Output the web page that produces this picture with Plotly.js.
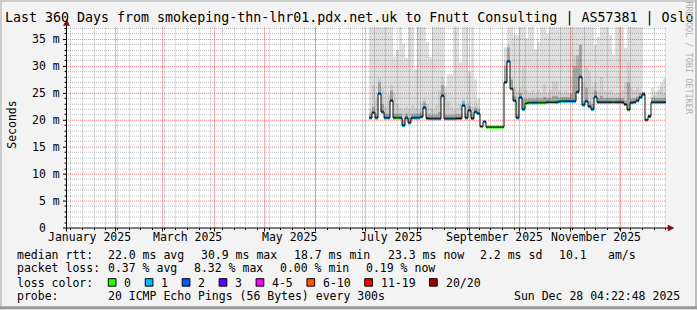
<!DOCTYPE html>
<html><head><meta charset="utf-8">
<script src="https://cdn.plot.ly/plotly-3.0.1.min.js"></script>
<style>html,body{margin:0;padding:0;background:#f3f3f3;overflow:hidden}#chart{width:697px;height:310px}</style>
</head><body><div id="chart"></div>
<script>
// ---------------- data ----------------
const titleText = 'Last 360 Days from smokeping-thn-lhr01.pdx.net.uk to Fnutt Consulting | AS57381 | Oslo';
const rangeStartUTC = [2025, 0, 2, 4, 22, 48];
const rangeEndUTC   = [2025, 11, 28, 4, 22, 48];
const firstBinUTC = [2025, 6, 3, 21, 10, 0];   // centre of first consolidated bin
const binHours = 43.2;

const median = [
 20.4,21.4,20.4,24.9,21.5,20.4,20.4,23.6,20.4,20.4,
 20.4,19.0,20.4,19.5,20.4,20.4,20.4,20.6,22.3,20.3,
 20.25,20.25,20.25,20.25,24.5,20.25,20.25,20.25,20.25,20.3,
 20.3,22.7,20.4,21.8,20.3,21.5,21.2,18.8,19.7,18.7,
 18.7,18.7,18.7,18.7,18.7,27.0,30.9,25.8,23.6,20.4,
 24.2,22.0,23.1,23.2,23.2,23.2,23.2,23.2,23.2,23.3,
 23.3,23.3,23.3,23.4,23.5,23.5,23.5,23.5,23.5,25.2,
 28.0,22.8,23.5,22.5,22.0,24.3,23.3,23.3,23.3,23.3,
 23.3,23.3,23.3,23.3,23.3,22.9,21.9,23.2,23.3,23.6,
 24.2,24.8,20.0,20.7,23.3,23.3,23.3,23.3,23.3];

const loss = [
 1,1,1,1,1,1,1,1,1,0,
 1,1,1,1,1,1,1,1,1,1,
 1,1,1,1,1,1,1,1,1,1,
 1,1,1,1,1,1,1,0,1,0,
 0,0,0,0,0,1,1,0,1,1,
 1,1,0,0,1,1,0,0,0,1,
 0,0,1,1,0,1,1,1,1,1,
 1,1,1,1,1,1,1,1,1,1,
 1,0,1,1,1,1,0,1,1,1,
 1,2,0,2,1,1,1,1,1];

const smokeTop = [
 37.5,37.5,37.5,37.5,37.5,37.5,37.5,37.5,31.8,33.0,
 37.5,34.1,31.5,37.5,37.5,29.5,37.5,37.5,37.5,34.5,
 31.7,37.5,37.5,37.5,37.5,26.3,28.5,28.5,37.5,37.5,
 30.7,37.5,37.5,29.0,37.5,27.6,24.0,19.1,20.0,19.0,
 19.0,19.0,19.0,19.0,19.0,33.5,37.5,37.5,35.8,35.8,
 37.5,37.5,35.2,37.5,37.5,33.2,34.5,37.5,37.5,36.0,
 37.5,37.5,37.5,37.5,37.5,37.5,37.5,37.5,37.5,37.5,
 37.5,37.5,37.5,37.5,37.5,34.0,35.5,37.5,37.5,37.5,
 35.8,32.1,37.5,37.5,37.5,33.4,37.5,37.5,37.5,37.5,
 37.5,25.0,20.3,21.0,26.0,25.3,25.5,27.0,27.8];

const smokeMid = [
 22.0,26.5,24.0,27.8,26.0,22.5,24.8,26.5,25.0,23.0,
 22.3,22.0,22.5,22.0,22.8,22.3,22.0,23.5,24.0,23.0,
 22.3,22.0,22.8,25.5,28.0,25.0,23.5,22.5,22.0,22.3,
 23.0,24.0,23.0,23.5,22.5,23.5,22.5,19.0,19.9,18.9,
 18.9,18.9,18.9,18.9,18.9,31.0,34.0,28.0,26.0,25.5,
 26.0,30.0,25.5,25.0,25.5,25.0,25.5,25.0,26.7,25.0,
 25.5,27.2,27.2,25.5,25.0,25.5,25.0,28.0,32.0,30.0,
 34.0,27.0,30.0,29.0,26.0,27.0,25.5,28.0,25.5,25.0,
 25.5,25.0,24.9,25.0,25.5,27.0,30.7,26.0,25.5,26.0,
 25.5,25.0,20.3,21.0,24.5,24.5,26.5,26.0,25.0];

const smokeDark = [
 21.2,22.5,21.2,27.0,23.0,21.2,21.2,25.5,21.2,21.2,
 21.2,20.0,21.2,20.5,21.2,21.2,21.2,21.4,23.3,21.1,
 21.0,21.0,21.0,21.5,26.5,21.0,21.0,21.0,21.0,21.1,
 21.1,23.5,21.2,22.6,21.1,22.3,22.0,18.9,19.8,18.8,
 18.8,18.8,18.8,18.8,18.8,30.0,33.5,27.5,24.5,21.2,
 25.0,24.0,23.9,24.0,24.0,24.0,24.0,24.0,24.3,24.1,
 24.1,24.5,24.5,24.2,24.3,24.3,24.3,25.0,30.0,32.0,
 34.0,23.6,26.0,23.5,23.0,25.5,24.1,24.5,24.1,24.1,
 24.1,24.1,24.1,24.1,24.1,23.7,27.0,24.0,24.1,24.4,
 25.0,25.2,20.2,20.9,24.1,24.1,24.1,24.1,24.1];

const monthLabels = ['January 2025','March 2025','May 2025','July 2025','September 2025','November 2025'];
const monthLabelDates = ['2025-01-16','2025-03-16','2025-05-16','2025-07-16','2025-09-16','2025-11-16'];
const yTickVals = [0,5,10,15,20,25,30,35];
const yTickText = ['0\u00a0\u00a0','5 m','10 m','15 m','20 m','25 m','30 m','35 m'];
const yTitle = 'Seconds';
const lossColors = ['#26ff00','#00b8ff','#0059ff','#5e00ff','#ff00ff','#ff5500','#ff0000','#a10000'];
const lossLabels = ['0','1','2','3','4-5','6-10','11-19','20/20'];
const rttHead = 'median rtt:';
const rttStats = ['22.0 ms avg','30.9 ms max','18.7 ms min','23.3 ms now','2.2 ms sd','10.1','am/s'];
const lossHead = 'packet loss:';
const lossStats = ['0.37 % avg','8.32 % max','0.00 % min','0.19 % now'];
const colorHead = 'loss color:';
const probeHead = 'probe:';
const probeText = '20 ICMP Echo Pings (56 Bytes) every 300s';
const stampText = 'Sun Dec 28 04:22:48 2025';
const watermark = 'RRDTOOL / TOBI OETIKER';

// ---------------- layout helpers ----------------
const MONO = 'DejaVu Sans Mono, monospace';
const FS = 11.5;
const YMAX = 37.27;
const L = 66, W = 600, T = 27, H = 201.5, B = T + H;
const px = x => (x - L) / W;
const py = y => (B - y) / H;
const pad = n => String(n).padStart(2, '0');
const fmt = ms => { const d = new Date(ms); return d.getUTCFullYear() + '-' + pad(d.getUTCMonth() + 1) + '-' + pad(d.getUTCDate()) + ' ' + pad(d.getUTCHours()) + ':' + pad(d.getUTCMinutes()) + ':' + pad(d.getUTCSeconds()); };
const startMs = Date.UTC(...rangeStartUTC), endMs = Date.UTC(...rangeEndUTC);
const timePix = ms => L + (ms - startMs) / (endMs - startMs) * W;
const valPix = v => B - v / YMAX * H;
const snap = p => Math.floor(p) + 0.5;
const BIN_MS = binHours * 3600e3;
const t0 = Date.UTC(...firstBinUTC);
const centers = median.map((_, i) => fmt(t0 + i * BIN_MS));
const edges = median.map((_, i) => fmt(t0 - BIN_MS / 2 + i * BIN_MS)).concat([fmt(t0 - BIN_MS / 2 + median.length * BIN_MS)]);
const ext = a => a.concat([a[a.length - 1]]);

const MINOR = 'rgba(0,0,0,0.25)', MAJOR = 'rgba(255,0,0,0.5)', DASH = '1px,1px';
const VMINOR = 'rgba(0,0,0,0.13)', VMAJOR = 'rgba(255,0,0,0.3)';
const traces = [];
function band(top, color) {
  traces.push({type: 'scatter', mode: 'lines', x: edges, y: ext(median), line: {width: 0, shape: 'hv'}, hoverinfo: 'skip'});
  traces.push({type: 'scatter', mode: 'lines', x: edges, y: ext(top), line: {width: 0, shape: 'hv'}, fill: 'tonexty', fillcolor: color, hoverinfo: 'skip'});
}
band(smokeTop, 'rgba(0,0,0,0.13)');
band(smokeMid, 'rgba(0,0,0,0.07)');
band(smokeDark, 'rgba(0,0,0,0.20)');
traces.push({type: 'scatter', mode: 'lines', x: edges, y: ext(median), line: {color: '#111', width: 1, shape: 'hv'}, hoverinfo: 'skip'});
traces.push({type: 'bar', x: centers, base: median.map(v => v - 0.28), y: median.map(() => 0.56), width: BIN_MS,
  marker: {color: loss.map(l => lossColors[l]), line: {width: 0}}, hoverinfo: 'skip'});

// ---------------- annotations ----------------
const ann = [];
function txt(text, x, y, o) {
  ann.push(Object.assign({text: text, xref: 'paper', yref: 'paper', x: px(x), y: py(y), xanchor: 'left', yanchor: 'middle',
    showarrow: false, borderpad: 0, font: {family: MONO, size: FS, color: '#000'}}, o || {}));
}
txt(titleText, 4, 18.3, {font: {family: MONO, size: 13.3, color: '#000'}});
monthLabels.forEach((m, i) => ann.push({text: m, xref: 'x', yref: 'paper', x: monthLabelDates[i], y: py(238.0), xanchor: 'center', yanchor: 'middle', showarrow: false, borderpad: 0, font: {family: MONO, size: FS, color: '#000'}}));
yTickVals.forEach((v, i) => ann.push({text: yTickText[i], xref: 'paper', yref: 'y', x: px(60.5), y: v, xanchor: 'right', yanchor: 'middle', showarrow: false, borderpad: 0, font: {family: MONO, size: FS, color: '#000'}}));
txt(yTitle, 12, 125, {xanchor: 'center', textangle: -90});
txt(watermark, 689.5, 58, {xanchor: 'center', textangle: 90, font: {family: MONO, size: 8.5, color: '#b0b0b0'}});

const RY = [255.8, 269.1, 283.2, 296.6];
txt(rttHead, 16, RY[0]);
[107.3, 200, 293.3, 386.7, 479.3, 558.3, 606.7].forEach((x, i) => txt(rttStats[i], x, RY[0]));
txt(lossHead, 16, RY[1]);
[107.3, 193.3, 279.3, 365].forEach((x, i) => txt(lossStats[i], x, RY[1]));
txt(colorHead, 16, RY[2]);
const shapes = [];
let bx = 108.3;
lossLabels.forEach((lab, i) => {
  shapes.push({type: 'rect', xref: 'paper', yref: 'paper', x0: px(bx), x1: px(bx + 7.7), y0: py(286.8), y1: py(279.3), fillcolor: lossColors[i], line: {color: '#000', width: 1}});
  txt(lab, bx + 15, RY[2]);
  bx += 30 + 6.95 * lab.length;
});
txt(probeHead, 16, RY[3]);
txt(probeText, 107.3, RY[3]);
txt(stampText, 513.3, RY[3]);

// ---------------- grid and ticks ----------------
function hline(yPix, x0Pix, x1Pix, color, dash, layer) {
  shapes.push({type: 'line', layer: layer || 'above', xref: 'paper', yref: 'paper', x0: px(x0Pix), x1: px(x1Pix), y0: py(yPix), y1: py(yPix), line: {color: color, width: 1, dash: dash || 'solid'}});
}
function vbar(xPix, y0Pix, y1Pix, color, layer) {
  shapes.push({type: 'rect', layer: layer || 'above', xref: 'paper', yref: 'paper', x0: px(xPix - 0.5), x1: px(xPix + 0.5), y0: py(y1Pix), y1: py(y0Pix), fillcolor: color, line: {width: 0}});
}
for (let v = 1; v < YMAX; v++) {
  const yp = snap(valPix(v));
  hline(yp, L, L + W, v % 5 ? MINOR : MAJOR, DASH, 'below');
  hline(yp, v % 5 ? 64.5 : 63, 66.5, '#000');
}
const weekStart = Date.UTC(2025, 0, 5), WEEK = 7 * 86400000;
for (let k = 0; k < 52; k++) {
  const ms = weekStart + k * WEEK;
  if (ms >= endMs) break;
  const xp = snap(timePix(ms));
  vbar(xp, T, B, VMINOR, 'below');
  vbar(xp, B, B + 2, '#000');
}
for (let m = 1; m < 12; m++) {
  const xp = snap(timePix(Date.UTC(2025, m, 1)));
  vbar(xp, T, B, VMAJOR, 'below');
  vbar(xp, B, B + 3.5, '#000');
}

// ---------------- axes / frame shapes ----------------
const AX = '#000', ARROW = '#7a1010';
hline(228.5, 63, 669, AX);
shapes.push({type: 'path', xref: 'paper', yref: 'paper', path: `M ${px(668)},${py(225.5)} L ${px(674)},${py(228.5)} L ${px(668)},${py(231.5)} Z`, fillcolor: ARROW, line: {color: ARROW, width: 0.5}});
shapes.push({type: 'line', xref: 'paper', yref: 'paper', x0: px(66.5), x1: px(66.5), y0: py(232), y1: py(25), line: {color: AX, width: 1}});
shapes.push({type: 'path', xref: 'paper', yref: 'paper', path: `M ${px(63.5)},${py(25.5)} L ${px(66.5)},${py(19.5)} L ${px(69.5)},${py(25.5)} Z`, fillcolor: ARROW, line: {color: ARROW, width: 0.5}});
// 3D frame
shapes.push({type: 'rect', xref: 'paper', yref: 'paper', x0: px(0), x1: px(2), y0: py(0), y1: py(310), fillcolor: '#cbcbcb', line: {width: 0}});
shapes.push({type: 'rect', xref: 'paper', yref: 'paper', x0: px(0), x1: px(697), y0: py(0), y1: py(2), fillcolor: '#cbcbcb', line: {width: 0}});
shapes.push({type: 'rect', xref: 'paper', yref: 'paper', x0: px(695), x1: px(697), y0: py(0), y1: py(310), fillcolor: '#bdbdbd', line: {width: 0}});
shapes.push({type: 'rect', xref: 'paper', yref: 'paper', x0: px(0), x1: px(697), y0: py(307), y1: py(310), fillcolor: '#999999', line: {width: 0}});

const layout = {
  width: 697, height: 310,
  margin: {l: 66, r: 31, t: 27, b: 81.5, pad: 0},
  paper_bgcolor: '#f3f3f3', plot_bgcolor: '#ffffff',
  showlegend: false, barmode: 'overlay',
  font: {family: MONO, size: FS, color: '#000'},
  xaxis: {type: 'date', range: [fmt(startMs), fmt(endMs)], showticklabels: false, ticks: '', showgrid: false,
    zeroline: false, showline: false, fixedrange: true},
  yaxis: {range: [0, YMAX], showticklabels: false, ticks: '', showgrid: false,
    zeroline: false, showline: false, fixedrange: true},
  shapes: shapes,
  annotations: ann
};
Plotly.newPlot('chart', traces, layout, {staticPlot: true, displayModeBar: false});
</script>
</body></html>
